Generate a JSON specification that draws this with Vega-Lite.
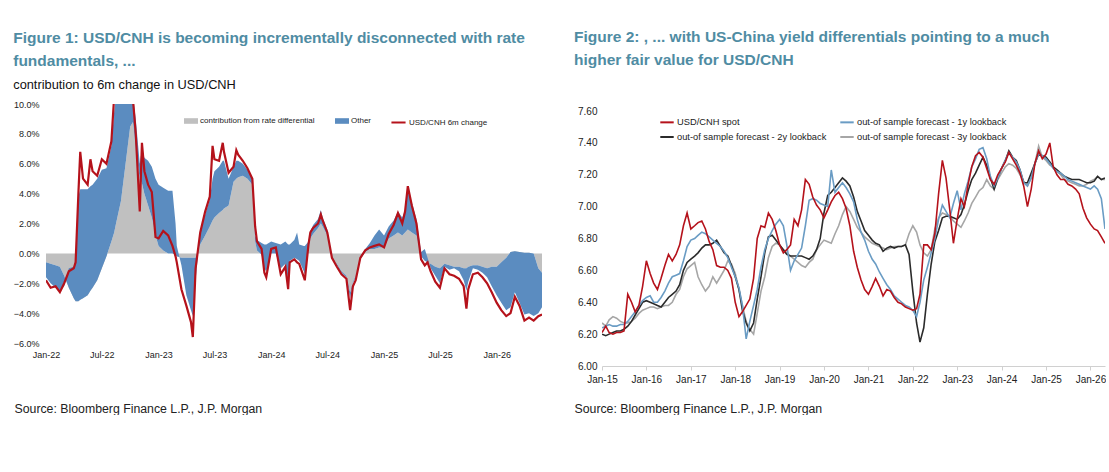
{
  "$schema": "https://vega.github.io/schema/vega-lite/v6.json",
  "padding": {"left": 13, "top": 29, "right": 0, "bottom": 0},
  "spacing": 32,
  "config": {
    "view": {"stroke": null},
    "font": "Liberation Sans",
    "axis": {"labelFont": "Liberation Sans", "labelColor": "#222", "grid": false, "titleFont": "Liberation Sans", "labelOverlap": false},
    "legend": {"labelFont": "Liberation Sans", "labelColor": "#222"}
  },
  "hconcat": [
    {
      "width": 496,
      "height": 239,
      "title": {
        "text": ["Figure 1: USD/CNH is becoming incrementally disconnected with rate", "fundamentals, ..."],
        "subtitle": "contribution to 6m change in USD/CNH",
        "anchor": "start",
        "frame": "bounds",
        "fontSize": 15.5,
        "fontWeight": "bold",
        "color": "#4f8ca3",
        "lineHeight": 23,
        "subtitleFontSize": 12.8,
        "subtitleColor": "#111",
        "subtitlePadding": 10,
        "offset": 8
      },
      "data": {
        "values": [
          {"d": "2022-01-01", "rate": -0.6, "stack": -1.6, "chg": -1.8},
          {"d": "2022-01-16", "rate": -0.7, "stack": -2.0, "chg": -2.3},
          {"d": "2022-02-01", "rate": -0.8, "stack": -2.3, "chg": -2.2},
          {"d": "2022-02-15", "rate": -0.9, "stack": -2.5, "chg": -2.6},
          {"d": "2022-03-01", "rate": -1.5, "stack": -2.2, "chg": -2.0},
          {"d": "2022-03-16", "rate": -2.3, "stack": -1.0, "chg": -1.2},
          {"d": "2022-04-01", "rate": -3.0, "stack": -0.9, "chg": -1.0},
          {"d": "2022-04-07", "rate": -3.2, "stack": -0.4, "chg": -0.6},
          {"d": "2022-04-16", "rate": -3.2, "stack": 3.8, "chg": 4.0},
          {"d": "2022-04-22", "rate": -3.1, "stack": 4.3, "chg": 6.8},
          {"d": "2022-05-01", "rate": -3.0, "stack": 4.3, "chg": 5.0},
          {"d": "2022-05-16", "rate": -2.8, "stack": 4.3, "chg": 4.6},
          {"d": "2022-05-25", "rate": -2.5, "stack": 4.5, "chg": 6.3},
          {"d": "2022-06-01", "rate": -2.3, "stack": 4.6, "chg": 5.5},
          {"d": "2022-06-16", "rate": -1.8, "stack": 5.0, "chg": 5.2},
          {"d": "2022-07-01", "rate": -1.0, "stack": 5.6, "chg": 6.3},
          {"d": "2022-07-16", "rate": -0.2, "stack": 5.7, "chg": 6.0},
          {"d": "2022-08-01", "rate": 0.8, "stack": 7.2, "chg": 7.5},
          {"d": "2022-08-10", "rate": 1.4, "stack": 9.5, "chg": 10.5},
          {"d": "2022-08-16", "rate": 2.0, "stack": 10.5, "chg": 10.5},
          {"d": "2022-09-01", "rate": 3.5, "stack": 10.5, "chg": 10.8},
          {"d": "2022-09-16", "rate": 6.0, "stack": 10.5, "chg": 10.8},
          {"d": "2022-10-01", "rate": 8.5, "stack": 10.5, "chg": 10.5},
          {"d": "2022-10-10", "rate": 8.8, "stack": 10.5, "chg": 10.3},
          {"d": "2022-10-19", "rate": 7.0, "stack": 9.0, "chg": 8.0},
          {"d": "2022-11-01", "rate": 5.0, "stack": 6.0, "chg": 2.8},
          {"d": "2022-11-08", "rate": 4.7, "stack": 7.0, "chg": 7.4},
          {"d": "2022-11-16", "rate": 4.0, "stack": 6.4, "chg": 5.5},
          {"d": "2022-11-28", "rate": 3.2, "stack": 6.2, "chg": 4.6},
          {"d": "2022-12-10", "rate": 2.4, "stack": 5.8, "chg": 4.1},
          {"d": "2022-12-22", "rate": 1.2, "stack": 5.0, "chg": 1.1},
          {"d": "2023-01-01", "rate": 0.5, "stack": 4.6, "chg": 1.0},
          {"d": "2023-01-16", "rate": 0.2, "stack": 4.4, "chg": 1.5},
          {"d": "2023-02-01", "rate": 0.0, "stack": 4.2, "chg": 1.2},
          {"d": "2023-02-15", "rate": 0.0, "stack": 4.2, "chg": 0.5},
          {"d": "2023-02-25", "rate": -0.1, "stack": 2.0, "chg": -0.2},
          {"d": "2023-03-01", "rate": -0.2, "stack": 0.5, "chg": -0.6},
          {"d": "2023-03-16", "rate": -0.3, "stack": -0.8, "chg": -2.4},
          {"d": "2023-04-01", "rate": -0.3, "stack": -2.8, "chg": -3.5},
          {"d": "2023-04-16", "rate": -0.3, "stack": -3.8, "chg": -4.6},
          {"d": "2023-04-22", "rate": -0.3, "stack": -4.2, "chg": -5.6},
          {"d": "2023-05-01", "rate": -0.3, "stack": -1.8, "chg": -1.0},
          {"d": "2023-05-16", "rate": 0.6, "stack": 1.5, "chg": 1.4},
          {"d": "2023-06-01", "rate": 1.2, "stack": 2.6, "chg": 2.8},
          {"d": "2023-06-16", "rate": 1.8, "stack": 3.6, "chg": 3.8},
          {"d": "2023-06-25", "rate": 2.2, "stack": 5.0, "chg": 7.2},
          {"d": "2023-07-01", "rate": 2.4, "stack": 5.5, "chg": 6.3},
          {"d": "2023-07-16", "rate": 2.7, "stack": 5.8, "chg": 6.2},
          {"d": "2023-07-28", "rate": 2.9, "stack": 6.2, "chg": 7.4},
          {"d": "2023-08-01", "rate": 3.0, "stack": 6.2, "chg": 6.8},
          {"d": "2023-08-16", "rate": 3.2, "stack": 5.0, "chg": 5.4},
          {"d": "2023-09-01", "rate": 4.8, "stack": 5.8, "chg": 5.8},
          {"d": "2023-09-10", "rate": 5.0, "stack": 6.2, "chg": 6.9},
          {"d": "2023-09-16", "rate": 5.1, "stack": 6.2, "chg": 6.6},
          {"d": "2023-10-01", "rate": 5.2, "stack": 6.0, "chg": 6.2},
          {"d": "2023-10-16", "rate": 5.0, "stack": 5.6, "chg": 5.7},
          {"d": "2023-11-01", "rate": 4.6, "stack": 5.0, "chg": 5.0},
          {"d": "2023-11-10", "rate": 0.8, "stack": 1.2, "chg": 1.8},
          {"d": "2023-11-16", "rate": 0.2, "stack": 0.9, "chg": 0.8},
          {"d": "2023-12-01", "rate": -0.1, "stack": 0.7, "chg": 0.3},
          {"d": "2023-12-10", "rate": -1.0, "stack": 0.6, "chg": -1.3},
          {"d": "2023-12-16", "rate": -1.2, "stack": 0.6, "chg": -1.6},
          {"d": "2024-01-01", "rate": 0.0, "stack": 0.8, "chg": 0.3},
          {"d": "2024-01-16", "rate": 0.0, "stack": 0.7, "chg": 0.4},
          {"d": "2024-02-01", "rate": -1.0, "stack": 0.6, "chg": -1.4},
          {"d": "2024-02-16", "rate": -0.7, "stack": 0.8, "chg": -0.9},
          {"d": "2024-02-25", "rate": -1.8, "stack": 0.6, "chg": -2.4},
          {"d": "2024-03-01", "rate": -0.5, "stack": 0.6, "chg": -0.6},
          {"d": "2024-03-16", "rate": -0.3, "stack": 0.9, "chg": -0.4},
          {"d": "2024-03-25", "rate": -0.4, "stack": 1.4, "chg": -0.6},
          {"d": "2024-04-01", "rate": -0.5, "stack": 0.6, "chg": -0.7},
          {"d": "2024-04-16", "rate": -1.2, "stack": 0.5, "chg": -1.6},
          {"d": "2024-04-19", "rate": -1.4, "stack": 0.5, "chg": -1.8},
          {"d": "2024-05-01", "rate": 0.2, "stack": 0.8, "chg": 0.6},
          {"d": "2024-05-07", "rate": 1.0, "stack": 1.5, "chg": 1.4},
          {"d": "2024-05-16", "rate": 1.3, "stack": 1.9, "chg": 1.7},
          {"d": "2024-06-01", "rate": 1.7, "stack": 2.3, "chg": 2.0},
          {"d": "2024-06-10", "rate": 2.0, "stack": 2.9, "chg": 2.6},
          {"d": "2024-06-16", "rate": 1.8, "stack": 2.4, "chg": 2.2},
          {"d": "2024-07-01", "rate": 1.2, "stack": 1.6, "chg": 1.4},
          {"d": "2024-07-16", "rate": -0.4, "stack": -0.2, "chg": -0.3},
          {"d": "2024-08-01", "rate": -0.7, "stack": -0.8, "chg": -0.9},
          {"d": "2024-08-16", "rate": -1.2, "stack": -1.3, "chg": -1.4},
          {"d": "2024-09-01", "rate": -1.5, "stack": -1.6, "chg": -1.7},
          {"d": "2024-09-13", "rate": -2.6, "stack": -3.0, "chg": -3.8},
          {"d": "2024-09-22", "rate": -1.9, "stack": -2.0, "chg": -2.2},
          {"d": "2024-10-01", "rate": -1.5, "stack": -1.6, "chg": -1.8},
          {"d": "2024-10-16", "rate": -0.4, "stack": -0.2, "chg": -0.3},
          {"d": "2024-11-01", "rate": 0.1, "stack": 0.3, "chg": 0.2},
          {"d": "2024-11-16", "rate": 0.3, "stack": 0.7, "chg": 0.4},
          {"d": "2024-12-01", "rate": 0.3, "stack": 1.2, "chg": 0.5},
          {"d": "2024-12-16", "rate": 0.4, "stack": 1.6, "chg": 0.6},
          {"d": "2025-01-01", "rate": 0.4, "stack": 1.2, "chg": 0.4},
          {"d": "2025-01-16", "rate": 1.0, "stack": 1.8, "chg": 1.3},
          {"d": "2025-02-01", "rate": 1.2, "stack": 2.2, "chg": 1.9},
          {"d": "2025-02-15", "rate": 1.4, "stack": 2.8, "chg": 2.7},
          {"d": "2025-03-01", "rate": 1.2, "stack": 2.4, "chg": 2.0},
          {"d": "2025-03-10", "rate": 1.4, "stack": 2.9, "chg": 2.8},
          {"d": "2025-03-19", "rate": 1.6, "stack": 4.2, "chg": 4.5},
          {"d": "2025-04-01", "rate": 1.4, "stack": 3.4, "chg": 3.2},
          {"d": "2025-04-16", "rate": 1.2, "stack": 2.3, "chg": 2.0},
          {"d": "2025-05-01", "rate": -0.2, "stack": 0.1, "chg": -0.4},
          {"d": "2025-05-13", "rate": -0.5, "stack": 0.3, "chg": -0.8},
          {"d": "2025-05-22", "rate": -0.6, "stack": -0.3, "chg": -0.6},
          {"d": "2025-06-01", "rate": -0.7, "stack": -1.0, "chg": -1.2},
          {"d": "2025-06-16", "rate": -0.9, "stack": -1.5, "chg": -1.9},
          {"d": "2025-07-01", "rate": -1.0, "stack": -2.0, "chg": -2.3},
          {"d": "2025-07-16", "rate": -0.7, "stack": -0.9, "chg": -1.0},
          {"d": "2025-08-01", "rate": -0.8, "stack": -1.1, "chg": -1.4},
          {"d": "2025-08-16", "rate": -0.9, "stack": -1.0, "chg": -1.5},
          {"d": "2025-09-01", "rate": -0.9, "stack": -1.2, "chg": -1.7},
          {"d": "2025-09-16", "rate": -1.0, "stack": -1.8, "chg": -2.2},
          {"d": "2025-09-25", "rate": -1.0, "stack": -2.5, "chg": -3.7},
          {"d": "2025-10-01", "rate": -0.9, "stack": -1.9, "chg": -2.4},
          {"d": "2025-10-16", "rate": -0.8, "stack": -1.0, "chg": -1.4},
          {"d": "2025-11-01", "rate": -0.8, "stack": -1.1, "chg": -1.3},
          {"d": "2025-11-16", "rate": -0.9, "stack": -1.3, "chg": -1.6},
          {"d": "2025-12-01", "rate": -1.0, "stack": -1.6, "chg": -2.0},
          {"d": "2025-12-16", "rate": -0.9, "stack": -2.2, "chg": -2.6},
          {"d": "2026-01-01", "rate": -0.9, "stack": -2.8, "chg": -3.3},
          {"d": "2026-01-16", "rate": -0.6, "stack": -3.3, "chg": -3.8},
          {"d": "2026-02-01", "rate": -0.3, "stack": -3.8, "chg": -4.2},
          {"d": "2026-02-15", "rate": 0.1, "stack": -3.6, "chg": -4.0},
          {"d": "2026-03-01", "rate": 0.15, "stack": -2.6, "chg": -2.9},
          {"d": "2026-03-16", "rate": 0.1, "stack": -3.3, "chg": -3.5},
          {"d": "2026-04-01", "rate": 0.05, "stack": -4.1, "chg": -4.5},
          {"d": "2026-04-16", "rate": 0.05, "stack": -4.0, "chg": -4.3},
          {"d": "2026-05-01", "rate": 0.0, "stack": -4.2, "chg": -4.5},
          {"d": "2026-05-16", "rate": -1.0, "stack": -4.0, "chg": -4.2},
          {"d": "2026-05-28", "rate": -1.3, "stack": -3.6, "chg": -4.1}
        ]
      },
      "encoding": {
        "x": {
          "field": "d",
          "type": "temporal",
          "scale": {"domain": ["2022-01-01", "2026-05-28"]},
          "axis": {
            "values": [
              {"year": 2022, "month": 1, "date": 1}, {"year": 2022, "month": 7, "date": 1},
              {"year": 2023, "month": 1, "date": 1}, {"year": 2023, "month": 7, "date": 1},
              {"year": 2024, "month": 1, "date": 1}, {"year": 2024, "month": 7, "date": 1},
              {"year": 2025, "month": 1, "date": 1}, {"year": 2025, "month": 7, "date": 1},
              {"year": 2026, "month": 1, "date": 1}
            ],
            "format": "%b-%y",
            "domain": false,
            "ticks": false,
            "labelFontSize": 9,
            "labelPadding": 7,
            "labelFlush": false,
            "labelOverlap": false,
            "title": null
          }
        },
        "y": {
          "type": "quantitative",
          "scale": {"domain": [-6, 10], "nice": false},
          "axis": {
            "values": [-6, -4, -2, 0, 2, 4, 6, 8, 10],
            "labelExpr": "format(datum.value, '.1f') + '%'",
            "labelOverlap": false,
            "domain": false,
            "ticks": false,
            "labelFontSize": 9,
            "labelPadding": 7,
            "minExtent": 32,
            "maxExtent": 32,
            "title": "Source: Bloomberg Finance L.P., J.P. Morgan",
            "titleAngle": 0,
            "titleFontSize": 12.3,
            "titleFontWeight": "normal",
            "titleColor": "#222",
            "titleAlign": "left",
            "titleBaseline": "middle",
            "titleAnchor": null,
            "titleX": -32,
            "titleY": 304
          }
        }
      },
      "layer": [
        {
          "mark": {"type": "area", "clip": true},
          "encoding": {
            "y": {"field": "rate"},
            "y2": {"datum": 0},
            "fill": {
              "datum": "contribution from rate differential",
              "scale": {"domain": ["contribution from rate differential", "Other"], "range": ["#c0c0c0", "#5b8cc0"]},
              "legend": {
                "orient": "none",
                "legendX": 138,
                "legendY": 10,
                "direction": "horizontal",
                "title": null,
                "symbolType": "M-1,-0.4H1V0.4H-1Z",
                "symbolSize": 196,
                "symbolStrokeWidth": 0,
                "labelFontSize": 8,
                "labelOffset": 2,
                "columnPadding": 20
              }
            }
          }
        },
        {
          "mark": {"type": "area", "clip": true},
          "encoding": {
            "y": {"field": "rate"},
            "y2": {"field": "stack"},
            "fill": {"datum": "Other"}
          }
        },
        {
          "mark": {"type": "line", "clip": true, "strokeWidth": 2.2},
          "encoding": {
            "y": {"field": "chg"},
            "stroke": {
              "datum": "USD/CNH 6m change",
              "scale": {"domain": ["USD/CNH 6m change"], "range": ["#b5121b"]},
              "legend": {
                "orient": "none",
                "legendX": 344,
                "legendY": 10,
                "title": null,
                "symbolType": "stroke",
                "symbolSize": 200,
                "symbolStrokeWidth": 2,
                "labelFontSize": 8,
                "labelOffset": 2
              }
            }
          }
        }
      ]
    },
    {
      "width": 503,
      "height": 262,
      "title": {
        "text": ["Figure 2: , ... with US-China yield differentials pointing to a much", "higher fair value for USD/CNH"],
        "anchor": "start",
        "frame": "bounds",
        "fontSize": 15.5,
        "fontWeight": "bold",
        "color": "#4f8ca3",
        "lineHeight": 23,
        "offset": 36
      },
      "data": {
        "values": [
          {"d": "2015-01-01", "spot": 6.21, "f1": 6.24, "f2": 6.20, "f3": 6.27},
          {"d": "2015-02-01", "spot": 6.25, "f1": 6.25, "f2": 6.19, "f3": 6.25},
          {"d": "2015-03-01", "spot": 6.21, "f1": 6.26, "f2": 6.20, "f3": 6.29},
          {"d": "2015-04-01", "spot": 6.20, "f1": 6.25, "f2": 6.21, "f3": 6.31},
          {"d": "2015-05-01", "spot": 6.21, "f1": 6.25, "f2": 6.22, "f3": 6.30},
          {"d": "2015-06-01", "spot": 6.21, "f1": 6.26, "f2": 6.22, "f3": 6.28},
          {"d": "2015-07-01", "spot": 6.22, "f1": 6.26, "f2": 6.23, "f3": 6.27},
          {"d": "2015-08-01", "spot": 6.45, "f1": 6.28, "f2": 6.25, "f3": 6.27},
          {"d": "2015-09-01", "spot": 6.40, "f1": 6.31, "f2": 6.28, "f3": 6.28},
          {"d": "2015-10-01", "spot": 6.34, "f1": 6.34, "f2": 6.32, "f3": 6.30},
          {"d": "2015-11-01", "spot": 6.38, "f1": 6.38, "f2": 6.36, "f3": 6.33},
          {"d": "2015-12-01", "spot": 6.50, "f1": 6.41, "f2": 6.40, "f3": 6.35},
          {"d": "2016-01-01", "spot": 6.66, "f1": 6.43, "f2": 6.41, "f3": 6.36},
          {"d": "2016-02-01", "spot": 6.58, "f1": 6.44, "f2": 6.40, "f3": 6.37},
          {"d": "2016-03-01", "spot": 6.52, "f1": 6.40, "f2": 6.39, "f3": 6.37},
          {"d": "2016-04-01", "spot": 6.48, "f1": 6.40, "f2": 6.38, "f3": 6.36},
          {"d": "2016-05-01", "spot": 6.55, "f1": 6.43, "f2": 6.37, "f3": 6.37},
          {"d": "2016-06-01", "spot": 6.63, "f1": 6.47, "f2": 6.40, "f3": 6.38},
          {"d": "2016-07-01", "spot": 6.70, "f1": 6.52, "f2": 6.43, "f3": 6.38},
          {"d": "2016-08-01", "spot": 6.66, "f1": 6.56, "f2": 6.45, "f3": 6.40},
          {"d": "2016-09-01", "spot": 6.70, "f1": 6.57, "f2": 6.47, "f3": 6.45},
          {"d": "2016-10-01", "spot": 6.76, "f1": 6.58, "f2": 6.51, "f3": 6.48},
          {"d": "2016-11-01", "spot": 6.88, "f1": 6.66, "f2": 6.60, "f3": 6.56},
          {"d": "2016-12-01", "spot": 6.96, "f1": 6.75, "f2": 6.65, "f3": 6.61},
          {"d": "2017-01-01", "spot": 6.86, "f1": 6.79, "f2": 6.67, "f3": 6.63},
          {"d": "2017-02-01", "spot": 6.88, "f1": 6.80, "f2": 6.69, "f3": 6.65},
          {"d": "2017-03-01", "spot": 6.90, "f1": 6.82, "f2": 6.71, "f3": 6.56},
          {"d": "2017-04-01", "spot": 6.91, "f1": 6.84, "f2": 6.74, "f3": 6.51},
          {"d": "2017-05-01", "spot": 6.86, "f1": 6.83, "f2": 6.76, "f3": 6.47},
          {"d": "2017-06-01", "spot": 6.78, "f1": 6.81, "f2": 6.76, "f3": 6.50},
          {"d": "2017-07-01", "spot": 6.73, "f1": 6.79, "f2": 6.77, "f3": 6.56},
          {"d": "2017-08-01", "spot": 6.63, "f1": 6.77, "f2": 6.79, "f3": 6.52},
          {"d": "2017-09-01", "spot": 6.62, "f1": 6.75, "f2": 6.75, "f3": 6.56},
          {"d": "2017-10-01", "spot": 6.62, "f1": 6.72, "f2": 6.71, "f3": 6.60},
          {"d": "2017-11-01", "spot": 6.60, "f1": 6.68, "f2": 6.69, "f3": 6.66},
          {"d": "2017-12-01", "spot": 6.55, "f1": 6.62, "f2": 6.63, "f3": 6.64},
          {"d": "2018-01-01", "spot": 6.40, "f1": 6.56, "f2": 6.56, "f3": 6.58},
          {"d": "2018-02-01", "spot": 6.31, "f1": 6.49, "f2": 6.48, "f3": 6.48},
          {"d": "2018-03-01", "spot": 6.34, "f1": 6.38, "f2": 6.35, "f3": 6.38},
          {"d": "2018-04-01", "spot": 6.38, "f1": 6.17, "f2": 6.27, "f3": 6.28},
          {"d": "2018-05-01", "spot": 6.42, "f1": 6.28, "f2": 6.22, "f3": 6.23},
          {"d": "2018-06-01", "spot": 6.55, "f1": 6.38, "f2": 6.27, "f3": 6.20},
          {"d": "2018-07-01", "spot": 6.80, "f1": 6.48, "f2": 6.42, "f3": 6.33},
          {"d": "2018-08-01", "spot": 6.88, "f1": 6.62, "f2": 6.56, "f3": 6.47},
          {"d": "2018-09-01", "spot": 6.87, "f1": 6.73, "f2": 6.71, "f3": 6.56},
          {"d": "2018-10-01", "spot": 6.96, "f1": 6.80, "f2": 6.81, "f3": 6.68},
          {"d": "2018-11-01", "spot": 6.92, "f1": 6.85, "f2": 6.82, "f3": 6.75},
          {"d": "2018-12-01", "spot": 6.85, "f1": 6.89, "f2": 6.79, "f3": 6.77},
          {"d": "2019-01-01", "spot": 6.76, "f1": 6.92, "f2": 6.76, "f3": 6.76},
          {"d": "2019-02-01", "spot": 6.71, "f1": 6.88, "f2": 6.73, "f3": 6.73},
          {"d": "2019-03-01", "spot": 6.73, "f1": 6.76, "f2": 6.70, "f3": 6.71},
          {"d": "2019-04-01", "spot": 6.76, "f1": 6.60, "f2": 6.69, "f3": 6.69},
          {"d": "2019-05-01", "spot": 6.92, "f1": 6.66, "f2": 6.69, "f3": 6.67},
          {"d": "2019-06-01", "spot": 6.88, "f1": 6.70, "f2": 6.69, "f3": 6.65},
          {"d": "2019-07-01", "spot": 6.98, "f1": 6.74, "f2": 6.69, "f3": 6.63},
          {"d": "2019-08-01", "spot": 7.17, "f1": 6.88, "f2": 6.68, "f3": 6.62},
          {"d": "2019-09-01", "spot": 7.14, "f1": 7.04, "f2": 6.67, "f3": 6.65},
          {"d": "2019-10-01", "spot": 7.06, "f1": 7.05, "f2": 6.69, "f3": 6.67},
          {"d": "2019-11-01", "spot": 7.01, "f1": 7.04, "f2": 6.73, "f3": 6.73},
          {"d": "2019-12-01", "spot": 6.98, "f1": 7.02, "f2": 6.80, "f3": 6.76},
          {"d": "2020-01-01", "spot": 6.93, "f1": 7.01, "f2": 6.96, "f3": 6.79},
          {"d": "2020-02-01", "spot": 6.98, "f1": 7.00, "f2": 7.07, "f3": 6.78},
          {"d": "2020-03-01", "spot": 7.03, "f1": 7.23, "f2": 7.09, "f3": 6.77},
          {"d": "2020-04-01", "spot": 7.07, "f1": 7.09, "f2": 7.12, "f3": 6.83},
          {"d": "2020-05-01", "spot": 7.09, "f1": 7.12, "f2": 7.15, "f3": 6.88},
          {"d": "2020-06-01", "spot": 7.05, "f1": 7.15, "f2": 7.18, "f3": 6.95},
          {"d": "2020-07-01", "spot": 6.99, "f1": 7.12, "f2": 7.16, "f3": 7.00},
          {"d": "2020-08-01", "spot": 6.88, "f1": 7.08, "f2": 7.13, "f3": 6.97},
          {"d": "2020-09-01", "spot": 6.72, "f1": 7.03, "f2": 7.06, "f3": 6.92},
          {"d": "2020-10-01", "spot": 6.62, "f1": 6.92, "f2": 6.97, "f3": 6.87},
          {"d": "2020-11-01", "spot": 6.54, "f1": 6.84, "f2": 6.91, "f3": 6.84},
          {"d": "2020-12-01", "spot": 6.48, "f1": 6.79, "f2": 6.85, "f3": 6.81},
          {"d": "2021-01-01", "spot": 6.45, "f1": 6.72, "f2": 6.82, "f3": 6.79},
          {"d": "2021-02-01", "spot": 6.50, "f1": 6.67, "f2": 6.79, "f3": 6.77},
          {"d": "2021-03-01", "spot": 6.55, "f1": 6.64, "f2": 6.77, "f3": 6.76},
          {"d": "2021-04-01", "spot": 6.50, "f1": 6.59, "f2": 6.76, "f3": 6.75},
          {"d": "2021-05-01", "spot": 6.44, "f1": 6.55, "f2": 6.72, "f3": 6.74},
          {"d": "2021-06-01", "spot": 6.48, "f1": 6.51, "f2": 6.74, "f3": 6.73},
          {"d": "2021-07-01", "spot": 6.47, "f1": 6.48, "f2": 6.75, "f3": 6.74},
          {"d": "2021-08-01", "spot": 6.43, "f1": 6.44, "f2": 6.74, "f3": 6.75},
          {"d": "2021-09-01", "spot": 6.40, "f1": 6.42, "f2": 6.75, "f3": 6.75},
          {"d": "2021-10-01", "spot": 6.39, "f1": 6.40, "f2": 6.75, "f3": 6.75},
          {"d": "2021-11-01", "spot": 6.37, "f1": 6.38, "f2": 6.76, "f3": 6.76},
          {"d": "2021-12-01", "spot": 6.36, "f1": 6.37, "f2": 6.70, "f3": 6.83},
          {"d": "2022-01-01", "spot": 6.35, "f1": 6.35, "f2": 6.47, "f3": 6.88},
          {"d": "2022-02-01", "spot": 6.36, "f1": 6.31, "f2": 6.27, "f3": 6.84},
          {"d": "2022-03-01", "spot": 6.45, "f1": 6.40, "f2": 6.15, "f3": 6.76},
          {"d": "2022-04-01", "spot": 6.76, "f1": 6.54, "f2": 6.24, "f3": 6.71},
          {"d": "2022-05-01", "spot": 6.76, "f1": 6.62, "f2": 6.45, "f3": 6.69},
          {"d": "2022-06-01", "spot": 6.73, "f1": 6.71, "f2": 6.64, "f3": 6.73},
          {"d": "2022-07-01", "spot": 6.83, "f1": 6.80, "f2": 6.78, "f3": 6.86},
          {"d": "2022-08-01", "spot": 7.08, "f1": 6.92, "f2": 6.85, "f3": 6.93},
          {"d": "2022-09-01", "spot": 7.29, "f1": 7.01, "f2": 6.93, "f3": 6.96},
          {"d": "2022-10-01", "spot": 7.18, "f1": 6.97, "f2": 6.94, "f3": 6.95},
          {"d": "2022-11-01", "spot": 6.98, "f1": 6.93, "f2": 6.94, "f3": 6.94},
          {"d": "2022-12-01", "spot": 6.77, "f1": 7.02, "f2": 6.93, "f3": 6.91},
          {"d": "2023-01-01", "spot": 6.92, "f1": 7.10, "f2": 6.92, "f3": 6.89},
          {"d": "2023-02-01", "spot": 7.05, "f1": 6.98, "f2": 6.95, "f3": 6.87},
          {"d": "2023-03-01", "spot": 7.00, "f1": 7.08, "f2": 7.01, "f3": 6.91},
          {"d": "2023-04-01", "spot": 7.14, "f1": 7.16, "f2": 7.10, "f3": 6.96},
          {"d": "2023-05-01", "spot": 7.25, "f1": 7.25, "f2": 7.17, "f3": 7.02},
          {"d": "2023-06-01", "spot": 7.32, "f1": 7.30, "f2": 7.21, "f3": 7.06},
          {"d": "2023-07-01", "spot": 7.34, "f1": 7.36, "f2": 7.26, "f3": 7.10},
          {"d": "2023-08-01", "spot": 7.31, "f1": 7.37, "f2": 7.31, "f3": 7.12},
          {"d": "2023-09-01", "spot": 7.24, "f1": 7.30, "f2": 7.26, "f3": 7.17},
          {"d": "2023-10-01", "spot": 7.17, "f1": 7.19, "f2": 7.18, "f3": 7.13},
          {"d": "2023-11-01", "spot": 7.14, "f1": 7.13, "f2": 7.11, "f3": 7.11},
          {"d": "2023-12-01", "spot": 7.20, "f1": 7.18, "f2": 7.18, "f3": 7.17},
          {"d": "2024-01-01", "spot": 7.24, "f1": 7.24, "f2": 7.24, "f3": 7.21},
          {"d": "2024-02-01", "spot": 7.28, "f1": 7.29, "f2": 7.29, "f3": 7.25},
          {"d": "2024-03-01", "spot": 7.34, "f1": 7.34, "f2": 7.35, "f3": 7.27},
          {"d": "2024-04-01", "spot": 7.30, "f1": 7.31, "f2": 7.31, "f3": 7.26},
          {"d": "2024-05-01", "spot": 7.26, "f1": 7.28, "f2": 7.29, "f3": 7.24},
          {"d": "2024-06-01", "spot": 7.21, "f1": 7.23, "f2": 7.23, "f3": 7.20},
          {"d": "2024-07-01", "spot": 7.13, "f1": 7.15, "f2": 7.15, "f3": 7.16},
          {"d": "2024-08-01", "spot": 7.00, "f1": 7.13, "f2": 7.15, "f3": 7.13},
          {"d": "2024-09-01", "spot": 7.11, "f1": 7.18, "f2": 7.21, "f3": 7.18},
          {"d": "2024-10-01", "spot": 7.27, "f1": 7.27, "f2": 7.27, "f3": 7.27},
          {"d": "2024-11-01", "spot": 7.35, "f1": 7.33, "f2": 7.33, "f3": 7.38},
          {"d": "2024-12-01", "spot": 7.30, "f1": 7.32, "f2": 7.32, "f3": 7.31},
          {"d": "2025-01-01", "spot": 7.33, "f1": 7.30, "f2": 7.31, "f3": 7.29},
          {"d": "2025-02-01", "spot": 7.40, "f1": 7.27, "f2": 7.28, "f3": 7.26},
          {"d": "2025-03-01", "spot": 7.25, "f1": 7.24, "f2": 7.25, "f3": 7.25},
          {"d": "2025-04-01", "spot": 7.20, "f1": 7.22, "f2": 7.23, "f3": 7.22},
          {"d": "2025-05-01", "spot": 7.17, "f1": 7.21, "f2": 7.21, "f3": 7.20},
          {"d": "2025-06-01", "spot": 7.17, "f1": 7.19, "f2": 7.19, "f3": 7.17},
          {"d": "2025-07-01", "spot": 7.14, "f1": 7.17, "f2": 7.18, "f3": 7.16},
          {"d": "2025-08-01", "spot": 7.13, "f1": 7.16, "f2": 7.17, "f3": 7.15},
          {"d": "2025-09-01", "spot": 7.11, "f1": 7.15, "f2": 7.17, "f3": 7.14},
          {"d": "2025-10-01", "spot": 7.08, "f1": 7.14, "f2": 7.17, "f3": 7.13},
          {"d": "2025-11-01", "spot": 6.99, "f1": 7.13, "f2": 7.16, "f3": 7.13},
          {"d": "2025-12-01", "spot": 6.93, "f1": 7.12, "f2": 7.15, "f3": 7.14},
          {"d": "2026-01-01", "spot": 6.89, "f1": 7.11, "f2": 7.15, "f3": 7.16},
          {"d": "2026-02-01", "spot": 6.86, "f1": 7.13, "f2": 7.16, "f3": 7.17},
          {"d": "2026-03-01", "spot": 6.85, "f1": 7.11, "f2": 7.19, "f3": 7.19},
          {"d": "2026-04-01", "spot": 6.81, "f1": 7.05, "f2": 7.17, "f3": 7.17},
          {"d": "2026-05-01", "spot": 6.77, "f1": 6.86, "f2": 7.18, "f3": 7.17}
        ]
      },
      "transform": [{"fold": ["f3", "f2", "f1", "spot"], "as": ["series", "value"]}],
      "mark": {"type": "line", "strokeWidth": 1.6, "clip": true},
      "encoding": {
        "x": {
          "field": "d",
          "type": "temporal",
          "scale": {"domain": ["2015-01-01", "2026-05-01"]},
          "axis": {
            "values": [
              {"year": 2015, "month": 1, "date": 1}, {"year": 2016, "month": 1, "date": 1},
              {"year": 2017, "month": 1, "date": 1}, {"year": 2018, "month": 1, "date": 1},
              {"year": 2019, "month": 1, "date": 1}, {"year": 2020, "month": 1, "date": 1},
              {"year": 2021, "month": 1, "date": 1}, {"year": 2022, "month": 1, "date": 1},
              {"year": 2023, "month": 1, "date": 1}, {"year": 2024, "month": 1, "date": 1},
              {"year": 2025, "month": 1, "date": 1}, {"year": 2026, "month": 1, "date": 1}
            ],
            "format": "%b-%y",
            "domainColor": "#d0d0d0",
            "tickColor": "#d0d0d0",
            "tickSize": 4,
            "labelFontSize": 10,
            "labelPadding": 4,
            "labelFlush": false,
            "labelOverlap": false,
            "title": "Source: Bloomberg Finance L.P., J.P. Morgan",
            "titleFontSize": 12.3,
            "titleFontWeight": "normal",
            "titleColor": "#222",
            "titleAnchor": "start",
            "titleAlign": "left",
            "titleBaseline": "middle",
            "titleX": -28,
            "titleY": 42
          }
        },
        "y": {
          "field": "value",
          "type": "quantitative",
          "scale": {"domain": [6.0, 7.644], "nice": false},
          "axis": {
            "values": [6.0, 6.2, 6.4, 6.6, 6.8, 7.0, 7.2, 7.4, 7.6],
            "format": ".2f",
            "labelOverlap": false,
            "domain": false,
            "ticks": false,
            "labelFontSize": 10,
            "labelPadding": 5,
            "minExtent": 28,
            "maxExtent": 28,
            "title": null
          }
        },
        "color": {
          "field": "series",
          "type": "nominal",
          "scale": {"domain": ["spot", "f2", "f1", "f3"], "range": ["#b5121b", "#2b2b2b", "#6a9cc4", "#a6a6a6"]},
          "legend": {
            "orient": "none",
            "legendX": 613,
            "legendY": 10,
            "columns": 2,
            "title": null,
            "symbolType": "stroke",
            "symbolSize": 180,
            "symbolStrokeWidth": 2,
            "labelFontSize": 9.3,
            "labelLimit": 300,
            "labelOffset": 2,
            "columnPadding": 9,
            "rowPadding": 1,
            "labelExpr": "datum.label == 'spot' ? 'USD/CNH spot' : datum.label == 'f1' ? 'out-of sample forecast - 1y lookback' : datum.label == 'f2' ? 'out-of sample forecast - 2y lookback' : 'out-of sample forecast - 3y lookback'"
          }
        }
      }
    }
  ]
}
